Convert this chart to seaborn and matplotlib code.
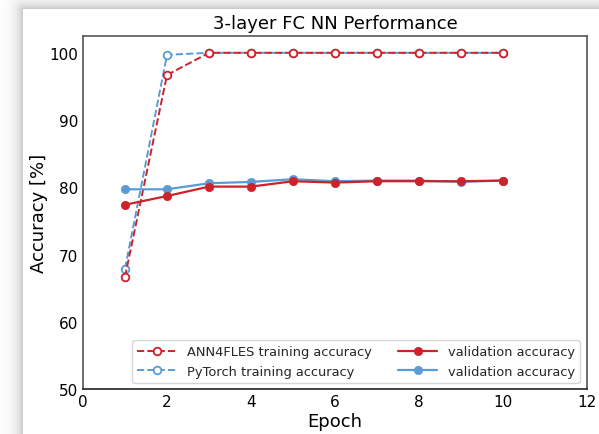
import numpy as np
import pandas as pd
import matplotlib
matplotlib.use("Agg")
import matplotlib.pyplot as plt
import seaborn as sns
from matplotlib.ticker import MultipleLocator

# values
epochs = [1, 2, 3, 4, 5, 6, 7, 8, 9, 10]
ann_train = [66.7, 96.7, 100, 100, 100, 100, 100, 100, 100, 100]
torch_train = [67.9, 99.7, 100, 100, 100, 100, 100, 100, 100, 100]
ann_val = [77.4, 78.7, 80.1, 80.1, 80.9, 80.7, 80.9, 80.9, 80.9, 81.0]
torch_val = [79.7, 79.7, 80.6, 80.8, 81.2, 80.9, 81.0, 81.0, 80.8, 81.0]

red = "#cc2229"
blue = "#5b9bd5"

sns.set_style("white")
plt.rcParams['font.family'] = ['DejaVu Sans']

W, H = 599, 435
fig = plt.figure(figsize=(W / 100, H / 100), dpi=100)

# soft drop shadow of the screenshot border (page starts at x=23, 10px from top)
xx, yy = np.meshgrid(np.arange(W), np.arange(H))
dx = np.clip(23 - xx, 0, None)
dy = np.clip(yy - (H - 11), 0, None)
d = np.hypot(dx, dy)
bg = np.where(d > 0, 1 - 0.2 * np.exp(-(d - 1) / 7.0), 1.0)
fig.figimage(bg, xo=0, yo=0, cmap="gray", vmin=0, vmax=1, origin="lower", zorder=-10)
fig.patch.set_alpha(0)

ax = fig.add_axes([83 / W, 45 / H, (587 - 83) / W, (390 - 37) / H])

df = pd.DataFrame({"Epoch": epochs, "ann_train": ann_train, "torch_train": torch_train,
                   "ann_val": ann_val, "torch_val": torch_val})

sns.lineplot(data=df, x="Epoch", y="torch_train", ax=ax, color=blue, linestyle="--",
             marker="o", markersize=5.5, markerfacecolor="white", markeredgecolor=blue,
             markeredgewidth=1.3, linewidth=1.4, label="PyTorch training accuracy")
sns.lineplot(data=df, x="Epoch", y="ann_train", ax=ax, color=red, linestyle="--",
             marker="o", markersize=5.5, markerfacecolor="white", markeredgecolor=red,
             markeredgewidth=1.3, linewidth=1.4, label="ANN4FLES training accuracy")
sns.lineplot(data=df, x="Epoch", y="torch_val", ax=ax, color=blue, linestyle="-",
             marker="o", markersize=6, markeredgecolor=blue, markeredgewidth=0.5,
             linewidth=1.6, label="validation accuracy")
sns.lineplot(data=df, x="Epoch", y="ann_val", ax=ax, color=red, linestyle="-",
             marker="o", markersize=6, markeredgecolor=red, markeredgewidth=0.5,
             linewidth=1.6, label="validation accuracy ")

ax.set_xlim(0, 12)
ax.set_ylim(50, 102.5)
ax.xaxis.set_major_locator(MultipleLocator(2))
ax.xaxis.set_minor_locator(MultipleLocator(1))
ax.yaxis.set_major_locator(MultipleLocator(10))
ax.yaxis.set_minor_locator(MultipleLocator(5))
ax.tick_params(which="major", direction="in", length=5, width=1, labelsize=11, colors="black")
ax.tick_params(which="minor", direction="in", length=3, width=1, colors="black")

for s in ax.spines.values():
    s.set_color("#555555")
    s.set_linewidth(1.2)
ax.spines["bottom"].set_color("#222222")

ax.set_xlabel("Epoch", fontsize=13, color="black", labelpad=2)
ax.set_ylabel("Accuracy [%]", fontsize=13, color="black", labelpad=1)
ax.set_title("3-layer FC NN Performance", fontsize=13, pad=6, color="black")

h, l = ax.get_legend_handles_labels()
order = [1, 0, 3, 2]
ax.legend([h[i] for i in order], ["ANN4FLES training accuracy", "PyTorch training accuracy",
                                   "validation accuracy", "validation accuracy"],
          ncol=2, loc="lower right", bbox_to_anchor=(0.986, 0.017), borderaxespad=0,
          fontsize=9.4, frameon=True, framealpha=0.8, edgecolor="#cccccc", fancybox=True,
          columnspacing=2.0, handlelength=3.0, borderpad=0.4, labelspacing=0.5)

fig.savefig("out.png", dpi=100)
